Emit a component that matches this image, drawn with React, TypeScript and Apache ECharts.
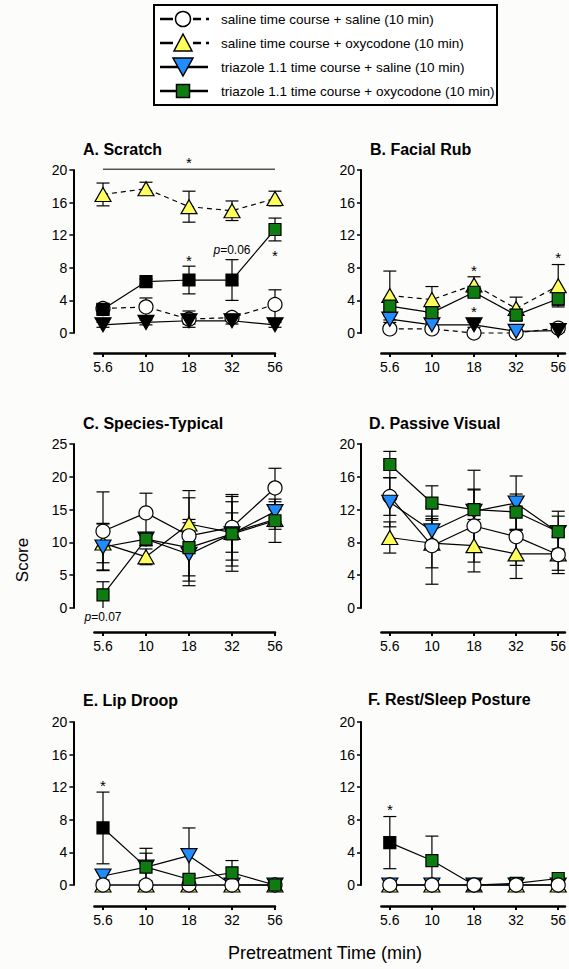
import React, { useEffect, useRef } from "react";
import * as echarts from "echarts";

const FONT = "'Liberation Sans', Arial, Helvetica, sans-serif";

// ---------- categories ----------
const doseLabels = ["5.6", "10", "18", "32", "56"];
const groupNames = [
  "saline time course + saline (10 min)",
  "saline time course + oxycodone (10 min)",
  "triazole 1.1 time course + saline (10 min)",
  "triazole 1.1 time course + oxycodone (10 min)",
];

// ---------- data: means (rows = groups in groupNames order, cols = doses) ----------
const scratchMeans = [
  [3.0, 3.2, 1.7, 1.9, 3.5],
  [17.0, 17.7, 15.5, 15.0, 16.5],
  [1.0, 1.3, 1.5, 1.5, 1.0],
  [2.9, 6.3, 6.5, 6.5, 12.7],
];
const scratchSem = [
  [0.6, 1.1, 1.0, 0.4, 1.8],
  [1.4, 0.8, 1.9, 1.2, 0.9],
  [0.3, 0.3, 0.4, 0.4, 0.3],
  [0.6, 0.3, 1.7, 2.5, 1.4],
];
const scratchSig = [
  [0, 0, 0, 0, 0],
  [0, 0, 0, 0, 0],
  [1, 1, 1, 1, 1],
  [1, 1, 1, 1, 0],
];

const facialMeans = [
  [0.5, 0.5, 0, 0, 0.6],
  [4.6, 4.1, 5.9, 3.0, 5.8],
  [1.7, 1.0, 1.0, 0.2, 0.3],
  [3.3, 2.5, 5.0, 2.2, 4.2],
];
const facialSem = [
  [0, 0, 0, 0, 0.3],
  [3.0, 1.6, 1.0, 1.4, 2.6],
  [0.4, 0.3, 0.3, 0.2, 0.2],
  [0.9, 0.7, 0.5, 0.7, 0.8],
];
const facialSig = [
  [0, 0, 0, 0, 0],
  [0, 0, 0, 0, 0],
  [0, 0, 1, 0, 1],
  [0, 0, 0, 0, 0],
];

const speciesMeans = [
  [11.7, 14.5, 11.0, 12.3, 18.3],
  [9.9, 7.8, 12.8, 11.5, 13.5],
  [9.3, 10.5, 8.2, 11.3, 14.7],
  [2.0, 10.5, 9.2, 11.3, 13.3],
];
const speciesSem = [
  [6.0, 3.0, 6.9, 5.0, 3.0],
  [3.0, 1.2, 4.0, 3.0, 1.5],
  [3.5, 1.0, 4.8, 4.9, 1.5],
  [2.0, 1.0, 4.3, 5.7, 3.3],
];

const passiveMeans = [
  [13.6, 7.6, 10.0, 8.7, 6.5],
  [8.6, 7.9, 7.6, 6.6, 6.6],
  [12.9, 9.4, 11.8, 12.8, 9.2],
  [17.5, 12.8, 12.0, 11.7, 9.3],
];
const passiveSem = [
  [2.3, 4.7, 4.4, 3.5, 2.3],
  [1.9, 3.0, 3.2, 3.0, 2.0],
  [3.0, 1.8, 5.0, 3.3, 2.0],
  [1.6, 2.1, 2.5, 2.2, 2.5],
];

const lipMeans = [
  [0, 0, 0, 0, 0],
  [0, 0, 0, 0, 0],
  [1.1, 2.2, 3.6, 0, 0],
  [7.0, 2.2, 0.7, 1.5, 0],
];
const lipSem = [
  [0, 0, 0, 0, 0],
  [0, 0, 0, 0, 0],
  [0.5, 1.7, 3.4, 0, 0],
  [4.4, 2.3, 0.5, 1.5, 0],
];
const lipSig = [
  [0, 0, 0, 0, 0],
  [0, 0, 0, 0, 0],
  [0, 0, 0, 0, 0],
  [1, 0, 0, 0, 0],
];

const restMeans = [
  [0, 0, 0, 0, 0],
  [0, 0, 0, 0, 0],
  [0, 0, 0, 0, 0],
  [5.2, 3.0, 0, 0.2, 0.8],
];
const restSem = [
  [0, 0, 0, 0, 0],
  [0, 0, 0, 0, 0],
  [0, 0, 0, 0, 0],
  [3.2, 3.0, 0, 0.2, 0],
];
const restSig = [
  [0, 0, 0, 0, 0],
  [0, 0, 0, 0, 0],
  [0, 0, 0, 0, 0],
  [1, 0, 0, 0, 0],
];

const noSig = [
  [0, 0, 0, 0, 0],
  [0, 0, 0, 0, 0],
  [0, 0, 0, 0, 0],
  [0, 0, 0, 0, 0],
];

// ---------- annotations (dose index, value, text) ----------
const scratchNotes = [
  { x: 2, y: 21.4, t: "*" },
  { x: 2, y: 9.4, t: "*" },
  { x: 4, y: 10.0, t: "*" },
  { x: 3, y: 10.2, t: "{i|p}=0.06" },
];
const scratchBar = [[0, 20.1, 4]];
const facialNotes = [
  { x: 2, y: 8.1, t: "*" },
  { x: 2, y: 3.1, t: "*" },
  { x: 4, y: 9.7, t: "*" },
];
const speciesNotes = [{ x: 0, y: -1.4, t: "{i|p}=0.07" }];
const lipNotes = [{ x: 0, y: 12.7, t: "*" }];
const restNotes = [{ x: 0, y: 9.7, t: "*" }];

// ---------- styles ----------
const groupFill = ["#ffffff", "#ffff5c", "#1f8dff", "#0e7c10"];
const groupSymbol = ["circle", "triangle", "triangle", "rect"];
const groupSymbolSize = [[14, 14], [16, 14], [16, 14], [12, 12]];
const groupRotate = [0, 0, 180, 0];

const panels = [
  { title: "A. Scratch", means: scratchMeans, sem: scratchSem, sig: scratchSig, notes: scratchNotes, bar: scratchBar,
    ymax: 20, step: 4, left: 94.4, width: 180.6, xmax: 4, top: 170, height: 163, xOff: 20, yOff: 21,
    tLeft: 83, tTop: 139, dashed: true, order: [0, 1, 2, 3] },
  { title: "B. Facial Rub", means: facialMeans, sem: facialSem, sig: facialSig, notes: facialNotes, bar: null,
    ymax: 20, step: 4, left: 381.4, width: 187.6, xmax: 4.16, top: 170, height: 163, xOff: 20, yOff: 20.4,
    tLeft: 370, tTop: 139, dashed: true, order: [0, 1, 2, 3] },
  { title: "C. Species-Typical", means: speciesMeans, sem: speciesSem, sig: noSig, notes: speciesNotes, bar: null,
    ymax: 25, step: 5, left: 94.4, width: 180.6, xmax: 4, top: 444, height: 164, xOff: 24, yOff: 21,
    tLeft: 83, tTop: 413, dashed: false, order: [1, 0, 2, 3] },
  { title: "D. Passive Visual", means: passiveMeans, sem: passiveSem, sig: noSig, notes: [], bar: null,
    ymax: 20, step: 4, left: 381.4, width: 187.6, xmax: 4.16, top: 444, height: 164, xOff: 24, yOff: 20.4,
    tLeft: 369, tTop: 413, dashed: false, order: [1, 0, 2, 3] },
  { title: "E. Lip Droop", means: lipMeans, sem: lipSem, sig: lipSig, notes: lipNotes, bar: null,
    ymax: 20, step: 4, left: 94.4, width: 180.6, xmax: 4, top: 722, height: 163, xOff: 21, yOff: 21,
    tLeft: 83, tTop: 690, dashed: false, order: [1, 2, 0, 3] },
  { title: "F. Rest/Sleep Posture", means: restMeans, sem: restSem, sig: restSig, notes: restNotes, bar: null,
    ymax: 20, step: 4, left: 381.4, width: 187.6, xmax: 4.16, top: 722, height: 163, xOff: 21, yOff: 20.4,
    tLeft: 368, tTop: 689, dashed: false, order: [1, 2, 3, 0] },
];

function buildOption() {
  const grid: any[] = [];
  const xAxis: any[] = [];
  const yAxis: any[] = [];
  const title: any[] = [];
  const series: any[] = [];

  panels.forEach((p, i) => {
    grid.push({ left: p.left, top: p.top, width: p.width, height: p.height, containLabel: false });
    title.push({
      text: p.title, left: p.tLeft, top: p.tTop, padding: 0,
      textStyle: { fontFamily: FONT, fontWeight: "bold", fontSize: 16, color: "#000", lineHeight: 20 },
    });
    xAxis.push({
      type: "value", gridIndex: i, min: -0.2, max: p.xmax, position: "bottom", offset: p.xOff,
      splitLine: { show: false },
      axisLine: { show: true, onZero: false, lineStyle: { color: "#000", width: 2.5 } },
      axisTick: { show: true, inside: false, length: 4, customValues: [0, 1, 2, 3, 4], lineStyle: { color: "#000", width: 2 } },
      axisLabel: {
        show: true, customValues: [0, 1, 2, 3, 4], margin: 7,
        formatter: (v: number) => doseLabels[Math.round(v)] ?? "",
        color: "#000", fontFamily: FONT, fontSize: 14,
      },
    });
    yAxis.push({
      type: "value", gridIndex: i, min: 0, max: p.ymax, interval: p.step, position: "left", offset: p.yOff,
      splitLine: { show: false },
      axisLine: { show: true, onZero: false, lineStyle: { color: "#000", width: 2 } },
      axisTick: { show: true, inside: false, length: 4, lineStyle: { color: "#000", width: 1.5 } },
      axisLabel: { color: "#000", fontFamily: FONT, fontSize: 14, margin: 6 },
    });

    // error bars (below the symbols)
    p.order.forEach((g) => {
      series.push({
        type: "custom", name: groupNames[g] + " SEM", xAxisIndex: i, yAxisIndex: i, z: 1, silent: true, clip: false,
        data: p.means[g].map((m, k) => [k, m, p.sem[g][k]]),
        renderItem: (params: any, api: any) => {
          const x = api.value(0), m = api.value(1), s = api.value(2);
          if (!s) return null;
          const lo = Math.max(0, m - s), hi = m + s;
          const a = api.coord([x, hi]);
          const b = api.coord([x, lo]);
          const w = 6.5;
          const st = { stroke: "#000", lineWidth: 1.2 };
          const children: any[] = [
            { type: "line", shape: { x1: a[0], y1: a[1], x2: b[0], y2: b[1] }, style: st },
            { type: "line", shape: { x1: a[0] - w, y1: a[1], x2: a[0] + w, y2: a[1] }, style: st },
          ];
          if (m - s > 0) children.push({ type: "line", shape: { x1: b[0] - w, y1: b[1], x2: b[0] + w, y2: b[1] }, style: st });
          return { type: "group", children };
        },
      });
    });

    // lines + symbols
    p.order.forEach((g) => {
      series.push({
        type: "line", name: groupNames[g], xAxisIndex: i, yAxisIndex: i, z: 2, silent: true, clip: false,
        symbol: groupSymbol[g], symbolSize: groupSymbolSize[g], symbolRotate: groupRotate[g], showSymbol: true,
        lineStyle: { color: "#000", width: 1.2, type: p.dashed && g < 2 ? [5, 4] : "solid" },
        itemStyle: { color: groupFill[g], borderColor: "#000", borderWidth: 1.2 },
        emphasis: { disabled: true },
        data: p.means[g].map((v, k) => ({
          value: [k, v],
          itemStyle: { color: p.sig[g][k] ? "#000" : groupFill[g] },
        })),
      });
    });

    // annotations
    if (p.notes.length) {
      const notes = p.notes;
      series.push({
        type: "custom", name: "annotations " + i, xAxisIndex: i, yAxisIndex: i, z: 5, silent: true, clip: false,
        data: notes.map((n) => [n.x, n.y]),
        renderItem: (params: any, api: any) => {
          const n = notes[params.dataIndex];
          const c = api.coord([api.value(0), api.value(1)]);
          const star = n.t === "*";
          return {
            type: "text", x: c[0], y: c[1] + (star ? 4 : 0),
            style: {
              text: n.t, fill: "#000", fontFamily: FONT, fontSize: star ? 15 : 12,
              align: "center", verticalAlign: "middle",
              rich: { i: { fontStyle: "italic", fontFamily: FONT, fontSize: 12, fill: "#000" } },
            },
          };
        },
      });
    }
    if (p.bar) {
      series.push({
        type: "custom", name: "bar " + i, xAxisIndex: i, yAxisIndex: i, z: 5, silent: true, clip: false,
        data: p.bar,
        renderItem: (params: any, api: any) => {
          const a = api.coord([api.value(0), api.value(1)]);
          const b = api.coord([api.value(2), api.value(1)]);
          return { type: "line", shape: { x1: a[0], y1: a[1], x2: b[0], y2: b[1] }, style: { stroke: "#000", lineWidth: 1 } };
        },
      });
    }
  });

  // legend drawn as graphic
  const rowsY = [19, 43, 67, 91];
  const legendChildren: any[] = [
    { type: "rect", shape: { x: 154, y: 5, width: 343, height: 100 }, style: { fill: "#ffffff", stroke: "#000", lineWidth: 2 } },
  ];
  rowsY.forEach((y, g) => {
    const segStyle = { stroke: "#000", lineWidth: 2.5 };
    if (g < 2) {
      legendChildren.push({ type: "line", shape: { x1: 160, y1: y, x2: 173, y2: y }, style: segStyle });
      legendChildren.push({ type: "line", shape: { x1: 193, y1: y, x2: 201, y2: y }, style: segStyle });
      legendChildren.push({ type: "line", shape: { x1: 206, y1: y, x2: 209, y2: y }, style: segStyle });
    } else {
      legendChildren.push({ type: "line", shape: { x1: 160, y1: y, x2: 208, y2: y }, style: segStyle });
    }
    const ms = { fill: groupFill[g], stroke: "#000", lineWidth: 1.5 };
    if (g === 0) legendChildren.push({ type: "circle", shape: { cx: 183, cy: y, r: 7.5 }, style: ms });
    if (g === 1) legendChildren.push({ type: "polygon", shape: { points: [[174, y + 8], [192, y + 8], [183, y - 9]] }, style: ms });
    if (g === 2) legendChildren.push({ type: "polygon", shape: { points: [[173, y - 9], [193, y - 9], [183, y + 9]] }, style: ms });
    if (g === 3) legendChildren.push({ type: "rect", shape: { x: 176.5, y: y - 6.5, width: 13, height: 13 }, style: ms });
    legendChildren.push({
      type: "text", x: 221, y,
      style: { text: groupNames[g], fill: "#000", fontFamily: FONT, fontSize: 13.5, align: "left", verticalAlign: "middle" },
    });
  });

  const graphic: any[] = [
    { type: "group", children: legendChildren },
    {
      type: "text", x: 22, y: 560, rotation: Math.PI / 2,
      style: { text: "Score", fill: "#000", fontFamily: FONT, fontSize: 17, align: "center", verticalAlign: "middle" },
    },
    {
      type: "text", x: 325, y: 953,
      style: { text: "Pretreatment Time (min)", fill: "#000", fontFamily: FONT, fontSize: 18, align: "center", verticalAlign: "middle" },
    },
  ];

  return {
    animation: false,
    backgroundColor: "#fcfcfa",
    title, grid, xAxis, yAxis, series, graphic,
  };
}

export default function App() {
  const ref = useRef<HTMLDivElement | null>(null);
  useEffect(() => {
    if (!ref.current) return;
    const chart = echarts.init(ref.current, undefined, { renderer: "svg" });
    chart.setOption(buildOption() as any);
    return () => chart.dispose();
  }, []);
  return <div ref={ref} style={{ position: "absolute", left: 0, top: 0, width: 569, height: 969 }} />;
}
